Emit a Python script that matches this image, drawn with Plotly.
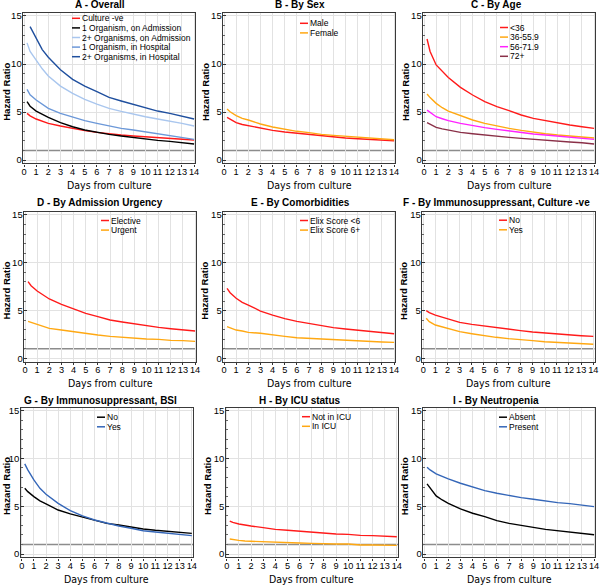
import plotly.graph_objects as go

# ---------------- data ----------------
DAYS = [0.25, 0.5, 1, 1.5, 2, 3, 4, 5, 6, 7, 8, 9, 10, 11, 12, 13, 14]
X_TICKS = list(range(0, 15))
Y_TICKS = [0, 5, 10, 15]
REFERENCE_HR = 1.0

# A - Overall
A_CULTURE_NEG = [4.86, 4.6, 4.27, 4.05, 3.82, 3.54, 3.26, 3.06, 2.88, 2.71, 2.6, 2.5, 2.43, 2.33, 2.26, 2.15, 2.08]
A_ONE_ADM = [6.08, 5.6, 5.1, 4.75, 4.44, 3.9, 3.47, 3.13, 2.88, 2.67, 2.5, 2.33, 2.19, 2.05, 1.94, 1.8, 1.67]
A_TWO_ADM = [12.2, 11.3, 10.4, 9.5, 8.75, 7.7, 6.94, 6.32, 5.83, 5.38, 5.07, 4.76, 4.51, 4.27, 4.06, 3.82, 3.54]
A_ONE_HOSP = [7.36, 6.8, 6.25, 5.8, 5.38, 4.86, 4.44, 4.1, 3.82, 3.54, 3.3, 3.13, 2.92, 2.74, 2.53, 2.36, 2.15]
A_TWO_HOSP = [None, 13.9, 12.67, 11.5, 10.7, 9.4, 8.4, 7.7, 7.12, 6.53, 6.15, 5.8, 5.45, 5.1, 4.86, 4.55, 4.27]

# B - By Sex
B_MALE = [4.44, 4.25, 3.9, 3.7, 3.58, 3.3, 3.09, 2.92, 2.78, 2.64, 2.5, 2.4, 2.29, 2.22, 2.15, 2.08, 2.01]
B_FEMALE = [5.31, 5.03, 4.62, 4.34, 4.17, 3.75, 3.44, 3.19, 2.99, 2.85, 2.67, 2.57, 2.47, 2.36, 2.29, 2.19, 2.12]

# C - By Age
C_LT36 = [12.6, 11.3, 9.9, 9.2, 8.6, 7.57, 6.77, 6.08, 5.56, 5.14, 4.69, 4.34, 4.1, 3.89, 3.65, 3.47, 3.3]
C_36_55 = [6.88, 6.5, 5.9, 5.45, 5.1, 4.62, 4.17, 3.82, 3.54, 3.3, 3.09, 2.88, 2.74, 2.6, 2.5, 2.4, 2.29]
C_56_71 = [5.2, 4.95, 4.51, 4.3, 4.1, 3.82, 3.58, 3.37, 3.19, 3.02, 2.88, 2.71, 2.6, 2.5, 2.4, 2.29, 2.15]
C_72P = [3.89, 3.72, 3.4, 3.25, 3.13, 2.88, 2.74, 2.6, 2.47, 2.36, 2.26, 2.15, 2.05, 1.94, 1.88, 1.8, 1.67]

# D - By Admission Urgency
D_ELECTIVE = [8.02, 7.6, 7.05, 6.63, 6.21, 5.65, 5.16, 4.71, 4.36, 4.01, 3.8, 3.59, 3.42, 3.24, 3.1, 3.0, 2.86]
D_URGENT = [3.87, 3.77, 3.56, 3.31, 3.14, 2.96, 2.76, 2.58, 2.44, 2.3, 2.2, 2.09, 2.02, 1.99, 1.88, 1.85, 1.78]

# E - By Comorbidities
E_LT6 = [7.32, 6.87, 6.28, 5.86, 5.58, 4.95, 4.53, 4.15, 3.87, 3.63, 3.42, 3.21, 3.07, 2.93, 2.79, 2.69, 2.58]
E_6P = [3.31, 3.21, 2.96, 2.86, 2.72, 2.62, 2.44, 2.3, 2.16, 2.09, 1.99, 1.92, 1.85, 1.81, 1.78, 1.71, 1.67]

# F - By Immunosuppressant, Culture -ve
F_NO = [4.99, 4.78, 4.53, 4.32, 4.12, 3.77, 3.56, 3.38, 3.21, 3.03, 2.9, 2.76, 2.65, 2.55, 2.44, 2.37, 2.3]
F_YES = [4.19, 3.84, 3.49, 3.31, 3.14, 2.79, 2.58, 2.37, 2.2, 2.06, 1.92, 1.85, 1.74, 1.67, 1.6, 1.5, 1.47]

# G - By Immunosuppressant, BSI
G_NO = [6.87, 6.52, 6.0, 5.55, 5.23, 4.6, 4.19, 3.84, 3.49, 3.21, 3.03, 2.79, 2.62, 2.48, 2.37, 2.27, 2.16]
G_YES = [9.42, 8.79, 7.74, 6.87, 6.24, 5.3, 4.53, 3.98, 3.56, 3.21, 2.93, 2.69, 2.44, 2.3, 2.16, 2.06, 1.92]

# H - By ICU status
H_NOT_ICU = [3.45, 3.31, 3.14, 3.0, 2.93, 2.76, 2.58, 2.48, 2.37, 2.27, 2.16, 2.09, 2.06, 1.95, 1.92, 1.88, 1.81]
H_ICU = [1.57, 1.5, 1.43, 1.36, 1.33, 1.29, 1.26, 1.19, 1.15, 1.12, 1.05, 1.05, 1.05, 0.94, 0.94, 0.94, 0.91]

# I - By Neutropenia
I_ABSENT = [7.33, 6.87, 6.07, 5.65, 5.3, 4.71, 4.26, 3.91, 3.49, 3.21, 2.97, 2.79, 2.58, 2.44, 2.27, 2.16, 2.02]
I_PRESENT = [9.07, 8.79, 8.37, 8.09, 7.85, 7.4, 6.98, 6.63, 6.35, 6.1, 5.9, 5.72, 5.51, 5.37, 5.27, 5.13, 4.95]

# ---------------- styling ----------------
RED = "#ff1a1a"
ORANGE = "#ffa812"
MAGENTA = "#ff22ff"
MAROON = "#8a3048"
BLACK = "#000000"
LIGHTBLUE = "#a9c6ee"
MIDBLUE = "#6c98d8"
DARKBLUE = "#1f4f9e"
BLUE = "#3466b8"

W, H = 600, 585
COLS_DEFAULT = [(22.8, 195.3), (222.8, 395.3), (422.8, 595.3)]
ROWS = [(13.1, 163.4), (212.1, 361.7), (407.6, 557.4)]
TITLE_Y = [5, 202, 400]
TITLE_X = [100, 300, 496]
LEG_STEP = 9.6

PANELS = [
    ("A - Overall", 0, 0, COLS_DEFAULT[0], (72, 18.3),
     [("Culture -ve", A_CULTURE_NEG, RED), ("1 Organism, on Admission", A_ONE_ADM, BLACK),
      ("2+ Organisms, on Admission", A_TWO_ADM, LIGHTBLUE), ("1 Organism, in Hospital", A_ONE_HOSP, MIDBLUE),
      ("2+ Organisms, in Hospital", A_TWO_HOSP, DARKBLUE)]),
    ("B - By Sex", 0, 1, COLS_DEFAULT[1], (300, 23.3),
     [("Male", B_MALE, RED), ("Female", B_FEMALE, ORANGE)]),
    ("C - By Age", 0, 2, COLS_DEFAULT[2], (500, 27.5),
     [("<36", C_LT36, RED), ("36-55.9", C_36_55, ORANGE), ("56-71.9", C_56_71, MAGENTA), ("72+", C_72P, MAROON)]),
    ("D - By Admission Urgency", 1, 0, (23.8, 196.3), (101, 220.5),
     [("Elective", D_ELECTIVE, RED), ("Urgent", D_URGENT, ORANGE)]),
    ("E - By Comorbidities", 1, 1, COLS_DEFAULT[1], (300, 220.5),
     [("Elix Score <6", E_LT6, RED), ("Elix Score 6+", E_6P, ORANGE)]),
    ("F - By Immunosuppressant, Culture -ve", 1, 2, (422.0, 594.5), (499, 220.2),
     [("No", F_NO, RED), ("Yes", F_YES, ORANGE)]),
    ("G - By Immunosuppressant, BSI", 2, 0, (20.5, 193.0), (97, 417.2),
     [("No", G_NO, BLACK), ("Yes", G_YES, BLUE)]),
    ("H - By ICU status", 2, 1, (225.5, 398.0), (302, 416.7),
     [("Not in ICU", H_NOT_ICU, RED), ("In ICU", H_ICU, ORANGE)]),
    ("I - By Neutropenia", 2, 2, COLS_DEFAULT[2], (499, 417.2),
     [("Absent", I_ABSENT, BLACK), ("Present", I_PRESENT, BLUE)]),
]

FONT = "Liberation Sans, Arial, sans-serif"
NARROW = "Liberation Sans Narrow, Arial Narrow, DejaVu Sans Condensed, sans-serif"

fig = go.Figure()
layout = dict(width=W, height=H, autosize=False, showlegend=False,
              margin=dict(l=0, r=0, t=0, b=0),
              paper_bgcolor="white", plot_bgcolor="white",
              font=dict(family=FONT, size=10, color="black"))
annotations = []
shapes = []

for i, (title, r, c, (x0, x1), (lx, ly), series) in enumerate(PANELS):
    n = i + 1
    xa = "xaxis" if n == 1 else f"xaxis{n}"
    ya = "yaxis" if n == 1 else f"yaxis{n}"
    xref = "x" if n == 1 else f"x{n}"
    yref = "y" if n == 1 else f"y{n}"
    y0p, y1p = ROWS[r]
    layout[xa] = dict(domain=[x0 / W, x1 / W], anchor=yref, range=[-0.1, 14.1],
                      tickvals=X_TICKS, ticks="outside", ticklen=2, tickcolor="#333",
                      tickangle=0, automargin=False, ticklabelstandoff=-3,
                      showgrid=True, gridcolor="#e2e2e2", gridwidth=1.2,
                      showline=True, linecolor="#3a3a3a", linewidth=1.4, mirror=True,
                      zeroline=False, tickfont=dict(size=9.2, family=FONT))
    layout[ya] = dict(domain=[1 - y1p / H, 1 - y0p / H], anchor=xref, range=[-0.35, 15.3],
                      tickvals=Y_TICKS, ticks="inside", ticklen=3, tickcolor="#333",
                      automargin=False, ticklabelstandoff=-2,
                      minor=dict(dtick=1, ticks="inside", ticklen=2, tickcolor="#666", showgrid=False),
                      showgrid=True, gridcolor="#e2e2e2", gridwidth=1.2,
                      showline=True, linecolor="#3a3a3a", linewidth=1.4, mirror=True,
                      zeroline=False, tickfont=dict(size=9.5, family=FONT))
    # reference line at HR = 1
    shapes.append(dict(type="line", xref=f"{xref} domain", yref=yref, x0=0, x1=1,
                       y0=REFERENCE_HR, y1=REFERENCE_HR, line=dict(color="#8c8c8c", width=1.4),
                       layer="below"))
    for k, (name, vals, color) in enumerate(series):
        fig.add_trace(go.Scatter(x=DAYS, y=vals, mode="lines", name=name, xaxis=xref, yaxis=yref,
                                 line=dict(color=color, width=1.4), connectgaps=False))
        yy = ly + k * LEG_STEP
        shapes.append(dict(type="line", xref="paper", yref="paper", x0=lx / W, x1=(lx + 8) / W,
                           y0=1 - yy / H, y1=1 - yy / H, line=dict(color=color, width=1.5)))
        annotations.append(dict(text=name, xref="paper", yref="paper", x=(lx + 8.5) / W, y=1 - yy / H,
                                xanchor="left", yanchor="middle", showarrow=False, borderpad=0,
                                font=dict(size=8.5, family=FONT, color="black")))
    cx = (x0 + x1) / 2
    annotations.append(dict(text=f"<b>{title}</b>", xref="paper", yref="paper",
                            x=TITLE_X[c] / W, y=1 - TITLE_Y[r] / H,
                            xanchor="center", yanchor="middle", showarrow=False,
                            font=dict(size=10, family=FONT)))
    annotations.append(dict(text="Days from culture", xref="paper", yref="paper",
                            x=cx / W, y=1 - (y1p + 21.5) / H, xanchor="center", yanchor="middle",
                            showarrow=False, borderpad=0, font=dict(size=10.5, family=NARROW)))
    annotations.append(dict(text="<b>Hazard Ratio</b>", xref="paper", yref="paper",
                            x=max(x0 - 18, 6.5) / W, y=1 - ((y0p + y1p) / 2 + 4) / H, textangle=-90,
                            xanchor="center", yanchor="middle", showarrow=False, borderpad=0,
                            font=dict(size=9.5, family=FONT)))

layout["annotations"] = annotations
layout["shapes"] = shapes
fig.update_layout(**layout)
fig.write_html("out.html", config={"displayModeBar": False},
               post_script="document.body.style.margin='0';document.body.style.padding='0';")
